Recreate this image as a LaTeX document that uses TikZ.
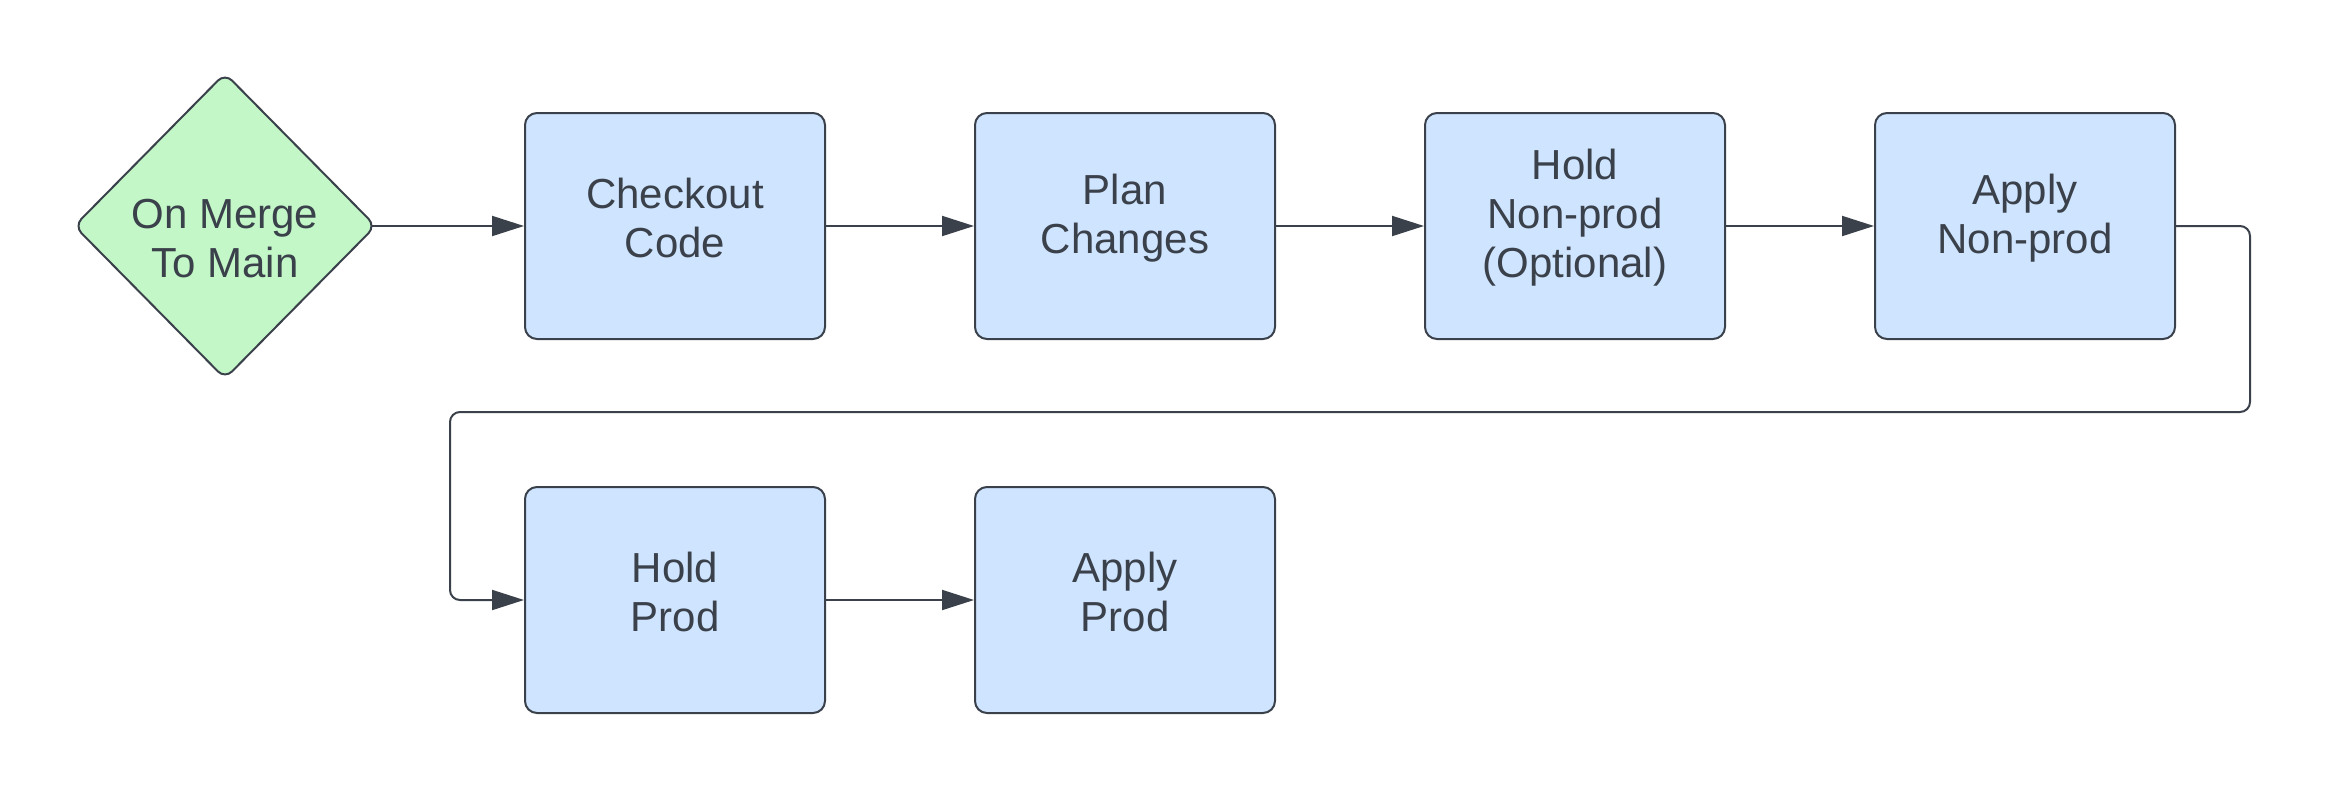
\documentclass[tikz,border=0pt]{standalone}
\usepackage{fontspec}
\setmainfont{Liberation Sans}
\usetikzlibrary{shapes.geometric,arrows.meta}
\definecolor{strokec}{HTML}{3A414A}
\definecolor{boxfill}{HTML}{CFE4FF}
\definecolor{dfill}{HTML}{C3F7C8}
\tikzset{
  txt/.style={align=center, text=strokec, font=\fontsize{42}{49}\selectfont, inner sep=0pt},
  stepbox/.style={draw=strokec, fill=boxfill, line width=2pt, rounded corners=12pt,
    minimum width=300pt, minimum height=226pt, inner sep=0pt},
  boxtext/.style={label={[txt, yshift=8pt]center:{#1}}},
  startnode/.style={diamond, draw=strokec, fill=dfill, line width=2pt, rounded corners=10pt,
    minimum width=302pt, minimum height=306pt, inner sep=0pt},
  conn/.style={draw=strokec, line width=2pt, -{Triangle[length=32pt,width=20pt]}}
}
\begin{document}
\begin{tikzpicture}[x=1pt,y=-1pt]
\useasboundingbox (0,0) rectangle (2327,788);
\node[startnode, label={[txt, yshift=-13pt]center:{On Merge\\To Main}}] (start) at (225,226) {};
\node[stepbox, boxtext={Checkout\\Code}] (b1) at (675,226) {};
\node[stepbox, boxtext={Plan\\Changes}] (b2) at (1125,226) {};
\node[stepbox, boxtext={Hold\\Non-prod\\(Optional)}] (b3) at (1575,226) {};
\node[stepbox, boxtext={Apply\\Non-prod}] (b4) at (2025,226) {};
\node[stepbox, boxtext={Hold\\Prod}] (b5) at (675,600) {};
\node[stepbox, boxtext={Apply\\Prod}] (b6) at (1125,600) {};
\coordinate (t1) at (2250,412);
\coordinate (t2) at (450,412);
\draw[conn] ([xshift=-5pt]start.east) -- (b1.west);
\draw[conn] (b1.east) -- (b2.west);
\draw[conn] (b2.east) -- (b3.west);
\draw[conn] (b3.east) -- (b4.west);
\draw[conn, rounded corners=10pt] (b4.east) -| (t1) -- (t2) |- (b5.west);
\draw[conn] (b5.east) -- (b6.west);
\end{tikzpicture}
\end{document}
